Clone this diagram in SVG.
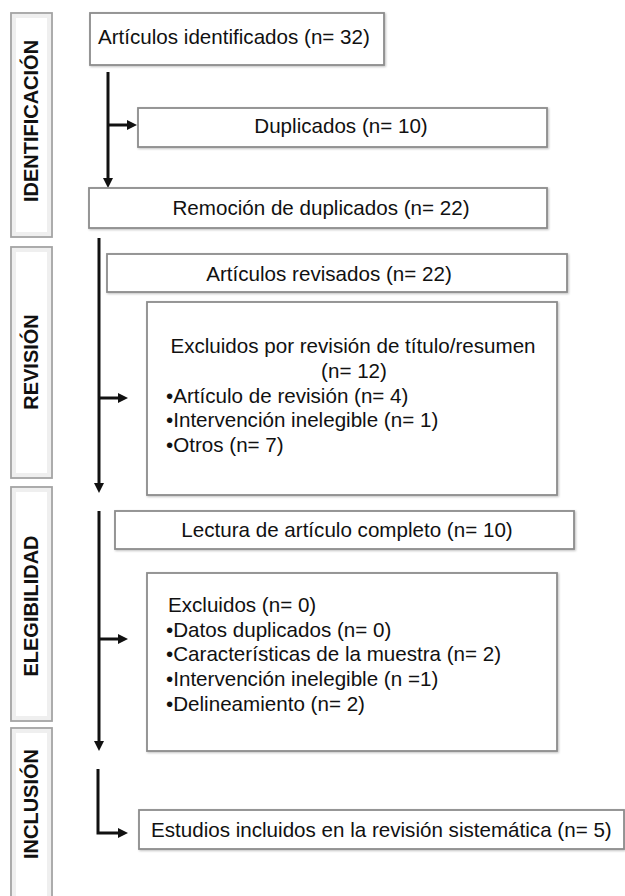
<svg xmlns="http://www.w3.org/2000/svg" width="625" height="896" viewBox="0 0 625 896">
<style>
.box{fill:#fff;stroke:#8c8c8c;stroke-width:1.8;filter:url(#sh)}
.lab{fill:#fff;stroke:#a3a3a3;stroke-width:1.8}
.labin{fill:none;stroke:#efefef;stroke-width:4}
.t{font-family:"Liberation Sans",Arial,sans-serif;font-size:20.6px;fill:#111}
.c{text-anchor:middle}
.lt{font-family:"Liberation Sans",Arial,sans-serif;font-size:20px;font-weight:bold;fill:#111;text-anchor:middle}
.ln{fill:none;stroke:#111;stroke-width:3}
</style>
<defs>
<filter id="sh" x="-5%" y="-5%" width="110%" height="120%">
<feDropShadow dx="1" dy="1" stdDeviation="0.8" flood-color="#000" flood-opacity="0.25"/>
</filter>
<marker id="ah" viewBox="0 0 10 10" refX="1" refY="5" markerWidth="10" markerHeight="10" markerUnits="userSpaceOnUse" orient="auto">
<path d="M0,0 L10,5 L0,10 z" fill="#111"/>
</marker>
</defs>

<g id="phase-identificacion">
<rect class="lab" x="11" y="13" width="41" height="224"/>
<rect class="labin" x="14" y="16" width="35" height="218"/>
<text class="lt" transform="translate(38,121) rotate(-90)">IDENTIFICACIÓN</text>
</g>
<g id="phase-revision">
<rect class="lab" x="11" y="247" width="41" height="231"/>
<rect class="labin" x="14" y="250" width="35" height="225"/>
<text class="lt" transform="translate(38,362) rotate(-90)">REVISIÓN</text>
</g>
<g id="phase-elegibilidad">
<rect class="lab" x="11" y="487" width="41" height="234"/>
<rect class="labin" x="14" y="490" width="35" height="228"/>
<text class="lt" transform="translate(38,606) rotate(-90)">ELEGIBILIDAD</text>
</g>
<g id="phase-inclusion">
<rect class="lab" x="11" y="728" width="41" height="180"/>
<rect class="labin" x="14" y="731" width="35" height="174"/>
<text class="lt" transform="translate(38,804) rotate(-90)">INCLUSIÓN</text>
</g>

<g id="connectors">
<path class="ln" d="M108,72 V179" marker-end="url(#ah)"/>
<path class="ln" d="M108,125 H128" marker-end="url(#ah)"/>
<path class="ln" d="M99,238 V484" marker-end="url(#ah)"/>
<path class="ln" d="M99,398 H119" marker-end="url(#ah)"/>
<path class="ln" d="M99,511 V742" marker-end="url(#ah)"/>
<path class="ln" d="M99,639 H119" marker-end="url(#ah)"/>
<path class="ln" d="M98,769 V833 H119" marker-end="url(#ah)"/>
</g>

<g id="n-identificados">
<rect class="box" x="90" y="13" width="294" height="52"/>
<text class="t" x="98" y="44">Artículos identificados (n= 32)</text>
</g>
<g id="n-duplicados">
<rect class="box" x="138" y="108" width="409" height="39"/>
<text class="t c" x="341" y="133">Duplicados (n= 10)</text>
</g>
<g id="n-remocion">
<rect class="box" x="89" y="188" width="458" height="40"/>
<text class="t c" x="321" y="215">Remoción de duplicados (n= 22)</text>
</g>
<g id="n-revisados">
<rect class="box" x="107" y="254" width="460" height="38"/>
<text class="t c" x="329" y="281">Artículos revisados (n= 22)</text>
</g>
<g id="n-excluidos-titulo">
<rect class="box" x="147" y="302" width="410" height="193"/>
<text class="t c" x="353" y="353">Excluidos por revisión de título/resumen</text>
<text class="t c" x="354" y="378">(n= 12)</text>
<text class="t" x="166" y="403">•Artículo de revisión (n= 4)</text>
<text class="t" x="166" y="427">•Intervención inelegible (n= 1)</text>
<text class="t" x="166" y="452">•Otros (n= 7)</text>
</g>
<g id="n-lectura">
<rect class="box" x="115" y="511" width="459" height="38"/>
<text class="t c" x="347" y="537">Lectura de artículo completo (n= 10)</text>
</g>
<g id="n-excluidos-lectura">
<rect class="box" x="147" y="573" width="410" height="178"/>
<text class="t" x="168" y="612">Excluidos (n= 0)</text>
<text class="t" x="166" y="637">•Datos duplicados (n= 0)</text>
<text class="t" x="166" y="661">•Características de la muestra (n= 2)</text>
<text class="t" x="166" y="686">•Intervención inelegible (n =1)</text>
<text class="t" x="166" y="711">•Delineamiento (n= 2)</text>
</g>
<g id="n-incluidos">
<rect class="box" x="139" y="810" width="485" height="39"/>
<text class="t" x="151" y="837">Estudios incluidos en la revisión sistemática (n= 5)</text>
</g>
</svg>
